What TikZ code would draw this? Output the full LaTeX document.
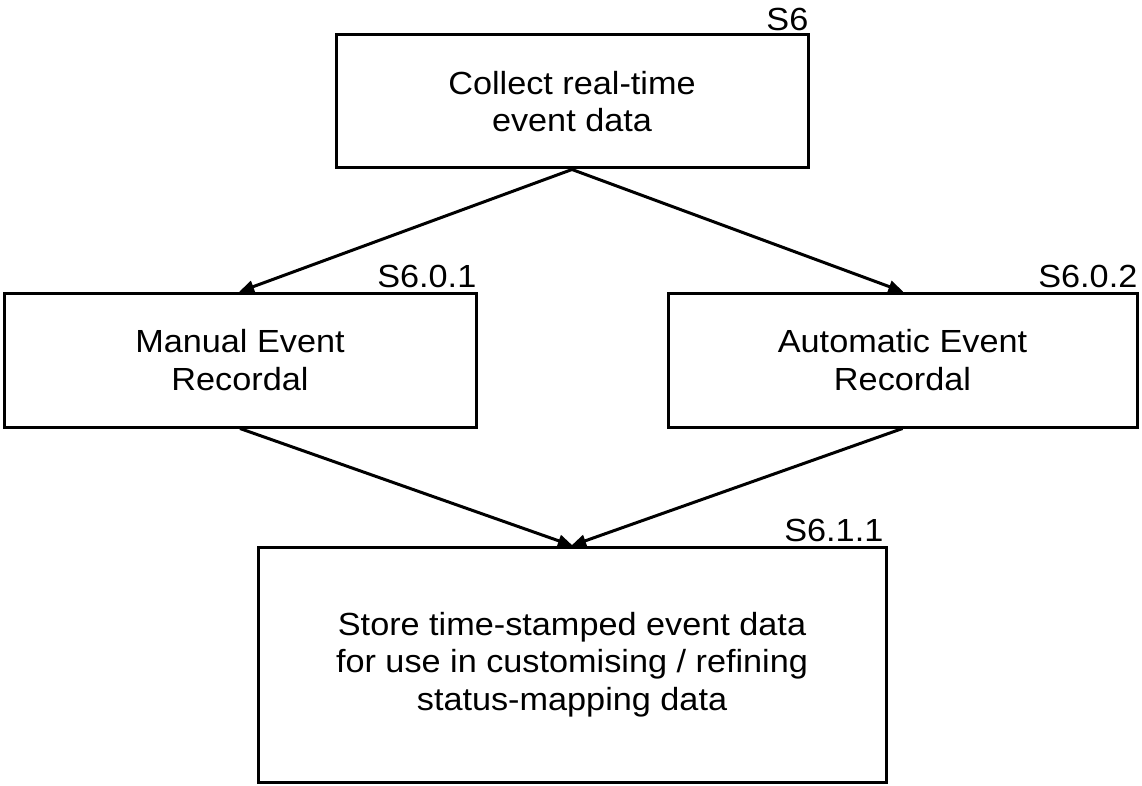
\documentclass[tikz,border=0pt]{standalone}
\usepackage{fontspec}
\setmainfont[FakeStretch=1.07]{Liberation Sans}
\usetikzlibrary{arrows.meta,calc}
\tikzset{
  box/.style={draw=black, line width=3pt, rectangle, align=center, inner sep=0pt,
    font=\fontsize{32}{37.5}\selectfont},
  lbl/.style={inner sep=0pt, anchor=base east, font=\fontsize{32}{37.5}\selectfont},
  conn/.style={draw=black, line width=3pt, -{Triangle[length=15pt,width=12pt]}, shorten >=-1pt}
}
\begin{document}
\begin{tikzpicture}[x=1pt,y=-1pt]
\useasboundingbox (0,0) rectangle (1142,786);
\node[box, minimum width=472pt, minimum height=133pt] (s6) at (572,101.5) {Collect real-time\\event data};
\node[box, minimum width=472pt, minimum height=134pt] (s601) at (240,360) {Manual Event\\Recordal};
\node[box, minimum width=469pt, minimum height=134pt] (s602) at (902.5,360) {Automatic Event\\Recordal};
\node[box, minimum width=628pt, minimum height=235pt] (s611) at (572,664.5) {Store time-stamped event data\\for use in customising / refining\\status-mapping data};
\node[lbl] (l6) at ($(s6.north east)+(-1,-3)$) {S6};
\node[lbl] (l601) at ($(s601.north east)+(-1,-4)$) {S6.0.1};
\node[lbl] (l602) at ($(s602.north east)+(-1,-4)$) {S6.0.2};
\node[lbl] (l611) at ($(s611.north east)+(-4,-4)$) {S6.1.1};
\draw[conn] (s6.south) -- (s601.north);
\draw[conn] (s6.south) -- (s602.north);
\draw[conn] (s601.south) -- (s611.north);
\draw[conn] (s602.south) -- (s611.north);
\end{tikzpicture}
\end{document}
